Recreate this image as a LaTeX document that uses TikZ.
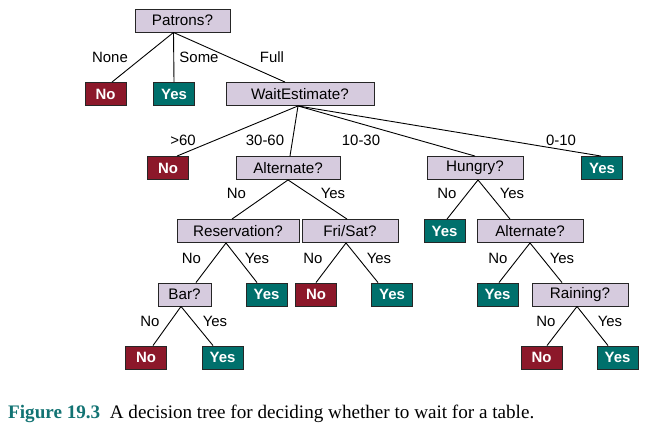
\documentclass[tikz,border=0pt]{standalone}
\usepackage{fontspec}
\setmainfont{Liberation Serif}
\newfontfamily\helv{Liberation Sans}
\usetikzlibrary{calc}
\definecolor{attrfill}{RGB}{214,203,222}
\definecolor{nored}{RGB}{140,24,42}
\definecolor{yesteal}{RGB}{0,112,108}
\definecolor{capteal}{RGB}{18,115,115}
\tikzset{
	attr/.style={draw=black!85,line width=0.9bp,fill=attrfill,inner sep=0pt,minimum height=23bp,font=\helv\fontsize{15.3}{17}\selectfont},
	leafno/.style={draw=black!85,line width=0.9bp,fill=nored,text=white,inner sep=0pt,minimum width=41bp,minimum height=23bp,font=\helv\bfseries\fontsize{15}{17}\selectfont},
	leafyes/.style={leafno,fill=yesteal},
	lbl/.style={font=\helv\fontsize{15}{17}\selectfont,inner sep=0pt},
	branch/.style={line width=0.9bp,black}
}
\begin{document}
\begin{tikzpicture}[x=1bp,y=-1bp]
	\useasboundingbox (0,0) rectangle (647,432);

	% Radice e primo livello
	\node[attr,minimum width=95bp] (pat) at (182.5,20.5) {Patrons?};
	\node[leafno] (pno) at (105.5,94) {No};
	\node[leafyes] (pyes) at (174,94) {Yes};
	\node[attr,minimum width=148bp] (wait) at (300,94) {WaitEstimate?};
	\draw[branch] ($(pat.south)+(-9,0)$) -- ($(pno.north)+(6.5,0)$);
	\draw[branch] ($(pat.south)+(-9,0)$) -- (pyes.north);
	\draw[branch] ($(pat.south)+(-9,0)$) -- ($(wait.north)+(-15,0)$);
	\node[lbl] (lnone) at (110,57) {None};
	\node[lbl] (lsome) at (199,57) {Some};
	\node[lbl] (lfull) at (272,57) {Full};

	% Tempo di attesa stimato
	\node[leafno] (wno) at (168,168) {No};
	\node[attr,minimum width=104bp] (alt) at (288,168) {Alternate?};
	\node[attr,minimum width=96bp] (hun) at (475,168) {Hungry?};
	\node[leafyes] (wyes) at (602,168) {Yes};
	\draw[branch] ($(wait.south)+(-2,0)$) -- ($(wno.north)+(9,0)$);
	\draw[branch] ($(wait.south)+(-2,0)$) -- ($(alt.north)+(2,0)$);
	\draw[branch] ($(wait.south)+(-2,0)$) -- (hun.north);
	\draw[branch] ($(wait.south)+(-2,0)$) -- ($(wyes.north)+(-1,0)$);
	\node[lbl] (lsixty) at (183,140) {>60};
	\node[lbl] (lthirty) at (265,140) {30-60};
	\node[lbl] (lten) at (361,140) {10-30};
	\node[lbl] (lzero) at (561,140) {0-10};

	% Ramo 30-60
	\node[attr,minimum width=122bp] (res) at (238,231) {Reservation?};
	\node[attr,minimum width=96bp] (fri) at (350,231) {Fri/Sat?};
	\draw[branch] (alt.south) -- ($(res.north)+(-6,0)$);
	\draw[branch] (alt.south) -- ($(fri.north)+(-3,0)$);
	\node[lbl] (laltno) at (236.5,193) {No};
	\node[lbl] (laltyes) at (333,193) {Yes};

	\node[attr,minimum width=53bp] (bar) at (184.5,294.5) {Bar?};
	\node[leafyes] (ryes) at (266.5,294.5) {Yes};
	\draw[branch] ($(res.south)+(-12,0)$) -- ($(bar.north)+(11.5,0)$);
	\draw[branch] ($(res.south)+(-12,0)$) -- ($(ryes.north)+(-9.5,0)$);
	\node[lbl] (lresno) at (191.5,258) {No};
	\node[lbl] (lresyes) at (257,258) {Yes};

	\node[leafno] (fno) at (316,294.5) {No};
	\node[leafyes] (fyes) at (392,294.5) {Yes};
	\draw[branch] ($(fri.south)+(-4,0)$) -- (fno.north);
	\draw[branch] ($(fri.south)+(-4,0)$) -- ($(fyes.north)+(-14,0)$);
	\node[lbl] (lfrino) at (313,258) {No};
	\node[lbl] (lfriyes) at (379,258) {Yes};

	\node[leafno] (bno) at (146,357.5) {No};
	\node[leafyes] (byes) at (222.5,357.5) {Yes};
	\draw[branch] ($(bar.south)+(-3.5,0)$) -- ($(bno.north)+(7,0)$);
	\draw[branch] ($(bar.south)+(-3.5,0)$) -- ($(byes.north)+(-9.5,0)$);
	\node[lbl] (lbarno) at (150,321) {No};
	\node[lbl] (lbaryes) at (215,321) {Yes};

	% Ramo 10-30
	\node[leafyes] (hyes) at (444.5,231) {Yes};
	\node[attr,minimum width=106bp] (alttwo) at (530,231) {Alternate?};
	\draw[branch] ($(hun.south)+(3,0)$) -- ($(hyes.north)+(2.5,0)$);
	\draw[branch] ($(hun.south)+(3,0)$) -- ($(alttwo.north)+(-20,0)$);
	\node[lbl] (lhunno) at (447,193) {No};
	\node[lbl] (lhunyes) at (512,193) {Yes};

	\node[leafyes] (ayes) at (497.5,294.5) {Yes};
	\node[attr,minimum width=96bp] (rain) at (580,294.5) {Raining?};
	\draw[branch] (alttwo.south) -- ($(ayes.north)+(1.5,0)$);
	\draw[branch] (alttwo.south) -- ($(rain.north)+(-18,0)$);
	\node[lbl] (laltwono) at (498,258) {No};
	\node[lbl] (laltwoyes) at (562,258) {Yes};

	\node[leafno] (rno) at (541.5,357.5) {No};
	\node[leafyes] (ryestwo) at (617.5,357.5) {Yes};
	\draw[branch] ($(rain.south)+(-3,0)$) -- ($(rno.north)+(5.5,0)$);
	\draw[branch] ($(rain.south)+(-3,0)$) -- ($(ryestwo.north)+(-9.5,0)$);
	\node[lbl] (lrainno) at (546,321) {No};
	\node[lbl] (lrainyes) at (610,321) {Yes};

	% Didascalia
	\node[anchor=base west,inner sep=0pt,font=\fontsize{19.2}{22}\selectfont] (cap) at (8,418)
		{\textcolor{capteal}{\textbf{Figure 19.3}}\hspace{0.5em}A decision tree for deciding whether to wait for a table.};
\end{tikzpicture}
\end{document}
